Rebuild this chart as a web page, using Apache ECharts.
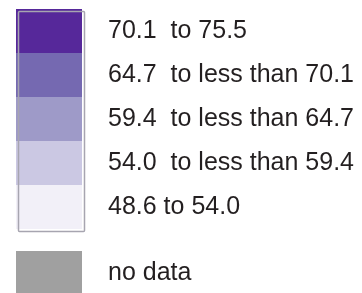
<!DOCTYPE html>
<html><head><meta charset="utf-8">
<script src="https://cdn.jsdelivr.net/npm/echarts@6/dist/echarts.min.js"></script>
<style>html,body{margin:0;padding:0;background:#fff}#c{width:362px;height:293px}</style>
</head><body><div id="c"></div>
<script>
const rangeLabels = ['70.1  to 75.5','64.7  to less than 70.1','59.4  to less than 64.7','54.0  to less than 59.4','48.6 to 54.0'];
const rangeMins = [70.1, 64.7, 59.4, 54.0, 48.6];
const rangeMaxs = [75.5, 70.1, 64.7, 59.4, 54.0];
const rangeColors = ['#56289a','#7569b1','#9e9ac8','#cbc8e3','#f2f0f8'];
const noDataLabel = 'no data';
const noDataColor = '#a0a0a0';

const chart = echarts.init(document.getElementById('c'), null, {renderer:'canvas'});
const txt = {fontFamily:'Liberation Sans, Arial, sans-serif', fontSize:25, color:'#231f20'};
chart.setOption({
  animation:false,
  visualMap:[{
    type:'piecewise', orient:'vertical', left:16, top:9, padding:0,
    itemWidth:66, itemHeight:44, itemGap:0, textGap:26, itemSymbol:'rect',
    selectedMode:false,
    pieces: rangeLabels.map((l,i)=>({min:rangeMins[i], max:rangeMaxs[i], label:l, color:rangeColors[i]})),
    textStyle:txt
  },{
    type:'piecewise', orient:'vertical', left:16, top:251, padding:0,
    itemWidth:66, itemHeight:44, itemGap:0, textGap:26, itemSymbol:'rect',
    selectedMode:false,
    pieces:[{value:0, label:noDataLabel, color:noDataColor}],
    textStyle:txt
  }],
  graphic:[{
    type:'rect', left:16, top:9, z:100, silent:true,
    shape:{width:66, height:220, r:1},
    style:{fill:'none', stroke:'#a7a5b0', lineWidth:1.5}
  }]
});
</script></body></html>
